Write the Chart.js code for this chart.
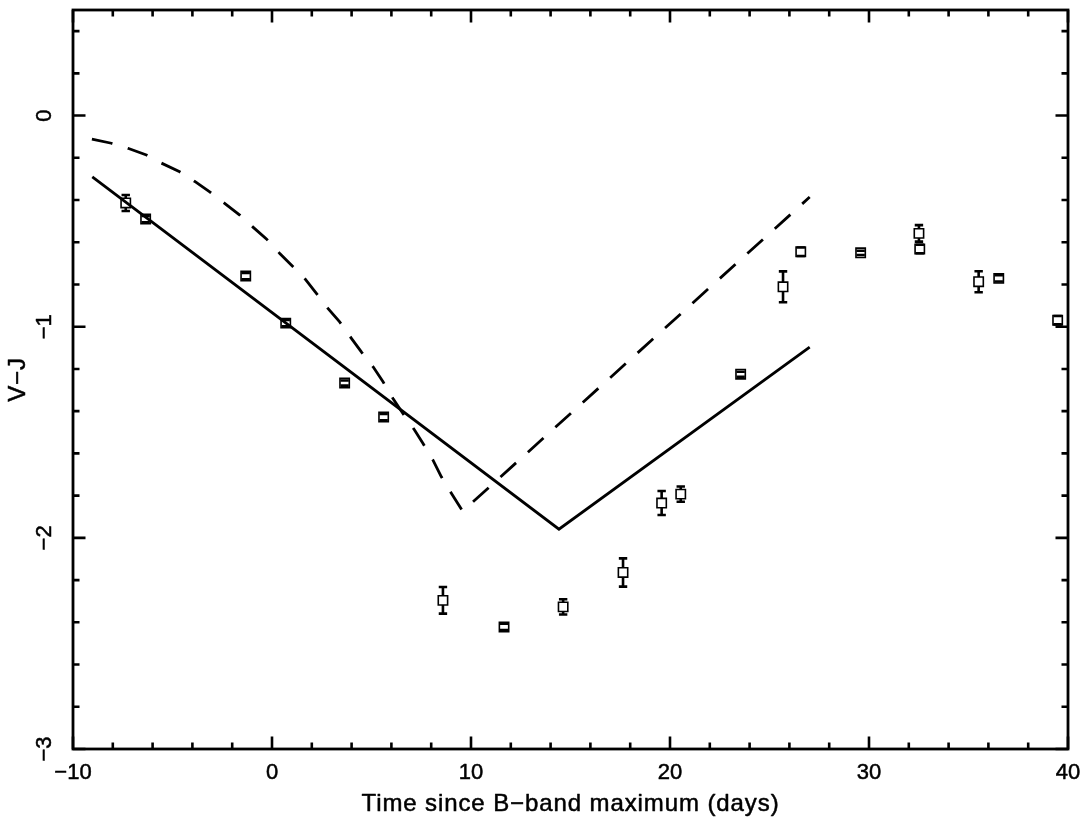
<!DOCTYPE html>
<html>
<head>
<meta charset="utf-8">
<style>
  html, body { margin: 0; padding: 0; background: #fff; }
  #wrap { width: 1089px; height: 835px; }
</style>
<script src="https://cdn.jsdelivr.net/npm/chart.js@4/dist/chart.umd.min.js"></script>
</head>
<body>
<div id="wrap"><canvas id="c" width="1089" height="835"></canvas></div>
<script>
// Observed V-J colours (days since B max)
const obsX   = [-7.35, -6.35, -1.32, 0.69, 3.65, 5.61, 8.59, 11.66, 14.63, 17.64, 19.58, 20.54, 23.55, 25.68, 26.57, 29.58, 32.51, 32.55, 35.51, 36.52, 39.48];
const obsY   = [-0.414, -0.490, -0.760, -0.983, -1.267, -1.428, -2.296, -2.422, -2.327, -2.164, -1.835, -1.793, -1.225, -0.811, -0.645, -0.650, -0.558, -0.632, -0.787, -0.771, -0.969];
const obsErr = [0.038, 0.015, 0.015, 0.015, 0.012, 0.015, 0.063, 0.015, 0.036, 0.067, 0.057, 0.036, 0.012, 0.073, 0.020, 0.010, 0.039, 0.020, 0.050, 0.015, 0.020];

// Model curves
const solidX = [-9.03, 14.42, 27.02];
const solidY = [-0.290, -1.959, -1.097];
const dashX = [-9.05, -8.07, -7.24, -6.31, -5.56, -4.64, -3.88, -3.13, -2.38, -1.62, -0.97, -0.28, 0.39, 0.97, 1.64, 2.23, 2.81, 3.40, 3.99, 4.49, 5.08, 5.58, 6.08, 6.58, 7.17, 7.59, 8.09, 8.51, 9.02, 9.58, 27.02];
const dashY = [-0.111, -0.131, -0.155, -0.187, -0.225, -0.266, -0.312, -0.361, -0.416, -0.471, -0.527, -0.584, -0.653, -0.708, -0.771, -0.842, -0.913, -0.977, -1.055, -1.119, -1.190, -1.261, -1.340, -1.411, -1.490, -1.553, -1.632, -1.711, -1.790, -1.874, -0.386];

// Axis ticks
const xMajor = [-10, 0, 10, 20, 30, 40];
const xMajorLabels = ['\u221210', '0', '10', '20', '30', '40'];
const xMinorStep = 2;
const yMajor = [-3, -2, -1, 0];
const yMajorLabels = ['\u22123', '\u22122', '\u22121', '0'];
const yMinorStep = 0.2;
const xTitle = 'Time since B\u2212band maximum (days)';
const yTitle = 'V\u2212J';

const FONT = '"Liberation Sans", Arial, sans-serif';

function pts(xs, ys) { return xs.map((x, i) => ({ x: x, y: ys[i] })); }

function heavyText(ctx, s, x, y) {
  ctx.fillText(s, x, y);
  ctx.strokeText(s, x, y);
}

const frame = {
  id: 'frame',
  afterDatasetsDraw(chart) {
    const ctx = chart.ctx;
    const xs = chart.scales.x, ys = chart.scales.y;
    const a = chart.chartArea;
    ctx.save();
    ctx.beginPath();
    ctx.rect(a.left, a.top, a.right - a.left, a.bottom - a.top);
    ctx.clip();
    ctx.strokeStyle = '#000';
    ctx.lineWidth = 2.6;
    ctx.lineCap = 'butt';
    const half = 4.7, cap = 4.2;
    obsX.forEach((xv, i) => {
      const px = xs.getPixelForValue(xv);
      const py = ys.getPixelForValue(obsY[i]);
      const top = ys.getPixelForValue(obsY[i] + obsErr[i]);
      const bot = ys.getPixelForValue(obsY[i] - obsErr[i]);
      ctx.beginPath();
      if (top < py - half) { ctx.moveTo(px, top); ctx.lineTo(px, py - half); }
      if (bot > py + half) { ctx.moveTo(px, py + half); ctx.lineTo(px, bot); }
      ctx.moveTo(px - cap, top); ctx.lineTo(px + cap, top);
      ctx.moveTo(px - cap, bot); ctx.lineTo(px + cap, bot);
      ctx.stroke();
    });
    ctx.restore();
  },
  afterDraw(chart) {
    const ctx = chart.ctx;
    const xs = chart.scales.x, ys = chart.scales.y;
    const a = chart.chartArea;
    ctx.save();
    ctx.strokeStyle = '#000';
    ctx.lineWidth = 2.8;
    ctx.strokeRect(a.left, a.top, a.right - a.left, a.bottom - a.top);
    ctx.lineWidth = 2.6;
    const majL = 12.5, minL = 6.5;
    ctx.beginPath();
    const nx = Math.round((xs.max - xs.min) / xMinorStep);
    for (let k = 0; k <= nx; k++) {
      const v = xs.min + k * xMinorStep;
      const isMaj = xMajor.some(m => Math.abs(m - v) < 1e-6);
      const L = isMaj ? majL : minL;
      const p = xs.getPixelForValue(v);
      ctx.moveTo(p, a.bottom); ctx.lineTo(p, a.bottom - L);
      ctx.moveTo(p, a.top); ctx.lineTo(p, a.top + L);
    }
    const ny = Math.round((ys.max - ys.min) / yMinorStep);
    for (let k = 0; k <= ny; k++) {
      const v = ys.min + k * yMinorStep;
      const isMaj = yMajor.some(m => Math.abs(m - v) < 1e-6);
      const L = isMaj ? majL : minL;
      const p = ys.getPixelForValue(v);
      ctx.moveTo(a.left, p); ctx.lineTo(a.left + L, p);
      ctx.moveTo(a.right, p); ctx.lineTo(a.right - L, p);
    }
    ctx.stroke();

    // labels
    ctx.fillStyle = '#000';
    ctx.strokeStyle = '#000';
    ctx.lineWidth = 0.5;
    ctx.lineJoin = 'round';
    ctx.font = '22px ' + FONT;
    ctx.textAlign = 'center';
    ctx.textBaseline = 'alphabetic';
    xMajor.forEach((v, i) => {
      heavyText(ctx, xMajorLabels[i], xs.getPixelForValue(v), a.bottom + 30);
    });
    yMajor.forEach((v, i) => {
      const p = ys.getPixelForValue(v);
      ctx.save();
      ctx.translate(a.left - 22, p);
      ctx.rotate(-Math.PI / 2);
      heavyText(ctx, yMajorLabels[i], 0, 0);
      ctx.restore();
    });
    ctx.font = '24px ' + FONT;
    try { ctx.letterSpacing = '0.9px'; } catch (e) {}
    heavyText(ctx, xTitle, (a.left + a.right) / 2, a.bottom + 62);
    ctx.save();
    ctx.translate(a.left - 48, (a.top + a.bottom) / 2);
    ctx.rotate(-Math.PI / 2);
    heavyText(ctx, yTitle, 0, 0);
    ctx.restore();
    ctx.restore();
  }
};

new Chart(document.getElementById('c'), {
  type: 'scatter',
  data: {
    datasets: [
      {
        data: pts(solidX, solidY), showLine: true, borderColor: '#000', borderWidth: 2.8,
        pointRadius: 0, tension: 0, fill: false
      },
      {
        data: pts(dashX, dashY), showLine: true, borderColor: '#000', borderWidth: 2.8,
        borderDash: [21, 16], pointRadius: 0, tension: 0, fill: false
      },
      {
        data: pts(obsX, obsY), showLine: false, pointStyle: 'rect', pointRadius: 6.6,
        pointBorderWidth: 1.6, pointBorderColor: '#000', pointBackgroundColor: 'rgba(255,255,255,0)'
      }
    ]
  },
  options: {
    responsive: false,
    animation: false,
    devicePixelRatio: 1,
    layout: { padding: { left: 73, right: 21, top: 10, bottom: 86 } },
    plugins: { legend: { display: false }, tooltip: { enabled: false } },
    scales: {
      x: { type: 'linear', min: -10, max: 40, display: false },
      y: { type: 'linear', min: -3, max: 0.5, display: false }
    }
  },
  plugins: [frame]
});
</script>
</body>
</html>
